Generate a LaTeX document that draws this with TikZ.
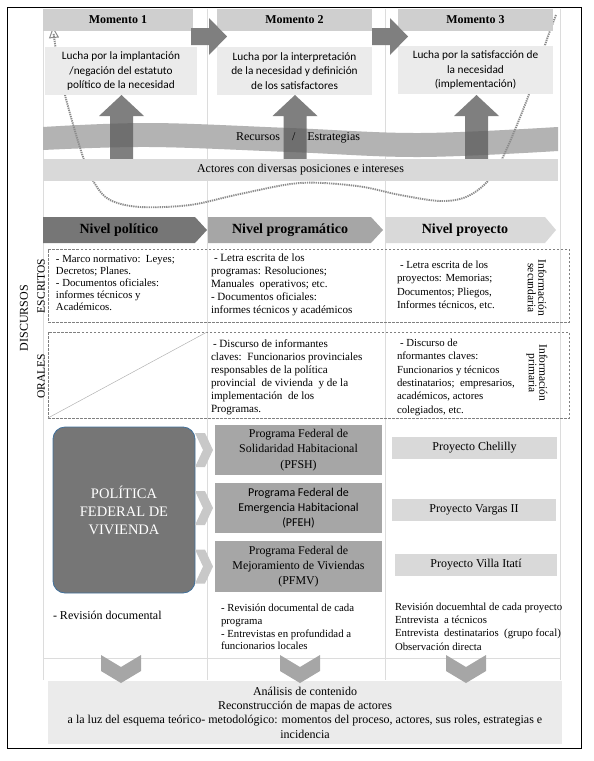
\documentclass[tikz,border=0pt]{standalone}
\usepackage{fontspec}
\setmainfont{Liberation Serif}
\newfontfamily\calibri{Carlito}
\usetikzlibrary{arrows.meta}
\definecolor{hdrgray}{HTML}{CFCFCF}
\definecolor{lightbox}{HTML}{EBEBEB}
\definecolor{darkarrow}{HTML}{7F7F7F}
\definecolor{bandbase}{HTML}{CCCCCC}
\definecolor{actgray}{HTML}{D9D9D9}
\definecolor{nivA}{HTML}{767676}
\definecolor{nivB}{HTML}{A6A6A6}
\definecolor{nivC}{HTML}{D9D9D9}
\definecolor{dotgray}{HTML}{8C8C8C}
\definecolor{gridgray}{HTML}{DCDCDC}
\definecolor{dashgray}{HTML}{808080}
\definecolor{polborder}{HTML}{41719C}
\definecolor{chevgray}{HTML}{C8C8C8}
\begin{document}
\begin{tikzpicture}[x=1pt,y=-1pt,
  every node/.style={inner sep=0pt, outer sep=0pt},
  hdr/.style={fill=hdrgray, minimum height=22pt, font=\bfseries\fontsize{12}{14}\selectfont},
  luchabox/.style={fill=lightbox, minimum height=48pt, align=center, font=\calibri\fontsize{11.3}{14.5}\selectfont},
  rightarrow/.style={fill=darkarrow},
  uparrow/.style={fill=darkarrow},
  bandtxt/.style={font=\fontsize{12}{14}\selectfont},
  nivtxt/.style={font=\bfseries\fontsize{14}{16}\selectfont},
  dbox/.style={draw=dashgray, dash pattern=on 2.5pt off 1.5pt, line width=0.6pt, minimum width=521pt},
  bodytxt/.style={anchor=north west, align=left, font=\fontsize{11.1}{13}\selectfont},
  sidelbl/.style={rotate=90, font=\fontsize{11.5}{13}\selectfont},
  infolbl/.style={rotate=-90, align=center, font=\fontsize{11.5}{10.5}\selectfont},
  progbox/.style={fill=nivB, minimum width=167pt, align=center, font=\fontsize{11.9}{15.3}\selectfont},
  projbox/.style={fill=nivC, minimum height=22pt, font=\fontsize{12}{14}\selectfont},
  polbox/.style={fill=nivA, draw=polborder, line width=0.8pt, rounded corners=12pt, minimum width=142pt, minimum height=166pt, text=white, align=center, font=\fontsize{14.5}{18}\selectfont},
  gridline/.style={draw=gridgray, line width=0.5pt},
  dotcurve/.style={draw=dotgray, line width=1.9pt, dash pattern=on 1.3pt off 0.9pt},
  chevron/.style={fill=chevgray},
  downchev/.style={fill=nivB},
  finbox/.style={fill=lightbox, minimum width=514pt, minimum height=63pt, align=center, font=\fontsize{12}{14.3}\selectfont}
]
\useasboundingbox (0,0) rectangle (594,761);
\draw[black, line width=1pt] (7,7) rectangle (581,748);

% faint table grid
\draw[gridline] (43,9) -- (43,680);
\draw[gridline] (207,9) -- (207,680);
\draw[gridline] (385,9) -- (385,680);
\draw[gridline] (560,9) -- (560,680);
\draw[gridline] (43,658) -- (560,658);

% Recursos / Estrategias band (base)
\fill[bandbase] plot[smooth, tension=0.6] coordinates {(43,127) (150,123) (290,128) (420,133) (558,127)}
  -- plot[smooth, tension=0.6] coordinates {(558,151) (420,157) (290,152) (150,147) (43,150)} -- cycle;

% up arrows
\foreach \cx in {121.5, 295, 476.5} {
  \fill[uparrow] (\cx-11.5,159) -- (\cx-11.5,116) -- (\cx-22.5,116) -- (\cx,95)
     -- (\cx+22.5,116) -- (\cx+11.5,116) -- (\cx+11.5,159) -- cycle;
}

% band overlay (darkens the arrows where they cross the band)
\fill[black, fill opacity=0.12] plot[smooth, tension=0.6] coordinates {(43,127) (150,123) (290,128) (420,133) (558,127)}
  -- plot[smooth, tension=0.6] coordinates {(558,151) (420,157) (290,152) (150,147) (43,150)} -- cycle;

% dotted process curve
\draw[dotcurve, -{Triangle[open, length=11pt, width=10pt, line width=1pt]}] plot[smooth, tension=0.55] coordinates {(556,15) (546,42) (528,97) (503,157) (487,182) (466,197) (440,201) (400,195) (357,186) (300,183) (240,194) (190,205) (140,207) (110,200) (95,184) (83,157) (65,95) (56,50) (53,27)};

% Actores band
\node[fill=actgray, minimum width=515pt, minimum height=22pt, bandtxt] (actores) at (300.5,170) {Actores con diversas posiciones e intereses};

% Momento headers
\node[hdr, minimum width=150pt] (m1) at (118,20) {Momento 1};
\node[hdr, minimum width=155pt] (m2) at (294.5,20) {Momento 2};
\node[hdr, minimum width=155pt] (m3) at (475.5,20) {Momento 3};

% Lucha boxes
\node[luchabox, minimum width=152pt] (l1) at (121,71) {Lucha por la implantación\\/negación del estatuto\\político de la necesidad};
\node[luchabox, minimum width=155pt] (l2) at (294.5,71) {Lucha por la interpretación\\de la necesidad y definición\\de los satisfactores};
\node[luchabox, minimum width=155pt] (l3) at (475.5,70) {Lucha por la satisfacción de\\la necesidad\\(implementación)};

% block arrows between moments
\fill[rightarrow] (191,28) -- (209,28) -- (209,18) -- (227,36.5) -- (209,55) -- (209,45) -- (191,45) -- cycle;
\fill[rightarrow] (372,28) -- (390,28) -- (390,18) -- (408,36.5) -- (390,55) -- (390,45) -- (372,45) -- cycle;

% Recursos text
\node[bandtxt] (recursos) at (298,138) {Recursos\hspace{12pt}/\hspace{12pt}Estrategias};

% Nivel chevrons
\fill[nivA] (43,217) -- (195,217) -- (207,230) -- (195,243) -- (43,243) -- cycle;
\fill[nivB] (208,217) -- (371,217) -- (383,230) -- (371,243) -- (208,243) -- cycle;
\fill[nivC] (385,217) -- (545,217) -- (556,230) -- (545,243) -- (385,243) -- cycle;
\node[nivtxt] (nivpol) at (119,230) {Nivel político};
\node[nivtxt] (nivprog) at (290,230) {Nivel programático};
\node[nivtxt] (nivproy) at (465,230) {Nivel proyecto};

% Dashed boxes
\node[dbox, minimum height=73pt] (esc) at (308.5,285.5) {};
\node[dbox, minimum height=86pt] (ora) at (308.5,375) {};
\coordinate (diagtop) at (207,332);
\draw[gray!60, line width=0.5pt] (ora.south west) -- (diagtop);

% side labels
\node[sidelbl, font=\fontsize{12}{14}\selectfont] (disc) at (24,318) {DISCURSOS};
\node[sidelbl] (escl) at (41,286) {ESCRITOS};
\node[sidelbl] (oral) at (41,376) {ORALES};
\node[infolbl] (infosec) at (537,288) {Información\\secundaria};
\node[infolbl] (infoprim) at (537,373) {Información\\primaria};

% escritos texts
\node[bodytxt, font=\fontsize{10.8}{12.2}\selectfont] (e1) at (56,255) {- Marco normativo:\ \ Leyes;\\Decretos; Planes.\\- Documentos oficiales:\\informes técnicos y\\Académicos.};
\node[bodytxt] (e2) at (211,254) {\hspace{3pt}- Letra escrita de los\\programas: Resoluciones;\\Manuales\ \ operativos; etc.\\- Documentos oficiales:\\informes técnicos y académicos};
\node[bodytxt, font=\fontsize{10.8}{13.3}\selectfont] (e3) at (397,261) {\hspace{3pt}- Letra escrita de los\\proyectos: Memorias;\\Documentos; Pliegos,\\Informes técnicos, etc.};

% orales texts
\node[bodytxt] (o2) at (211,340) {\hspace{2pt}- Discurso de informantes\\claves:\ \ Funcionarios provinciales\\responsables de la política\\provincial\ \ de vivienda\ \ y de la\\implementación\ \ de los\\Programas.};
\node[bodytxt, font=\fontsize{10.8}{13.3}\selectfont] (o3) at (397,339) {\hspace{3pt}- Discurso de\\nformantes claves:\\Funcionarios y técnicos\\destinatarios;\ \ empresarios,\\académicos, actores\\colegiados, etc.};

% bottom section
\node[polbox] (pol) at (124,510) {POLÍTICA\\FEDERAL DE\\VIVIENDA};
\foreach \cy in {450, 508, 566.5} {
  \fill[chevron] (195,\cy-17) -- (205,\cy-17) -- (213,\cy) -- (205,\cy+17) -- (195,\cy+17) -- (203,\cy) -- cycle;
}
\node[progbox, minimum height=50pt] (pfsh) at (298.5,450) {Programa Federal de\\Solidaridad Habitacional\\(PFSH)};
\node[progbox, minimum height=50pt, font=\calibri\fontsize{12}{15.3}\selectfont] (pfeh) at (298.5,508) {Programa Federal de\\Emergencia Habitacional\\(PFEH)};
\node[progbox, minimum height=51pt] (pfmv) at (298.5,566.5) {Programa Federal de\\Mejoramiento de Viviendas\\(PFMV)};

\node[projbox, minimum width=165pt] (chel) at (474.5,448) {Proyecto Chelilly};
\node[projbox, minimum width=164pt] (varg) at (474,509.5) {Proyecto Vargas II};
\node[projbox, minimum width=162pt] (villa) at (476,564.5) {Proyecto Villa Itatí};

\node[bodytxt, font=\fontsize{12}{14}\selectfont] (r1) at (53,611) {- Revisión documental};
\node[bodytxt, font=\fontsize{10.8}{12.8}\selectfont] (r2) at (221,604) {- Revisión documental de cada\\programa\\- Entrevistas en profundidad a\\funcionarios locales};
\node[bodytxt, font=\fontsize{10.8}{13.2}\selectfont] (r3) at (395,603) {Revisión docuemhtal de cada proyecto\\Entrevista\ \ a técnicos\\Entrevista\ \ destinatarios\ \ (grupo focal)\\Observación directa};

\node[finbox] (fin) at (305,712.5) {Análisis de contenido\\Reconstrucción de mapas de actores\\a la luz del esquema teórico- metodológico: momentos del proceso, actores, sus roles, estrategias e\\incidencia};

\foreach \cx in {121, 300, 466} {
  \fill[downchev] (\cx-20,655) -- (\cx,667) -- (\cx+20,655) -- (\cx+20,671) -- (\cx,683) -- (\cx-20,671) -- cycle;
}
\end{tikzpicture}
\end{document}
